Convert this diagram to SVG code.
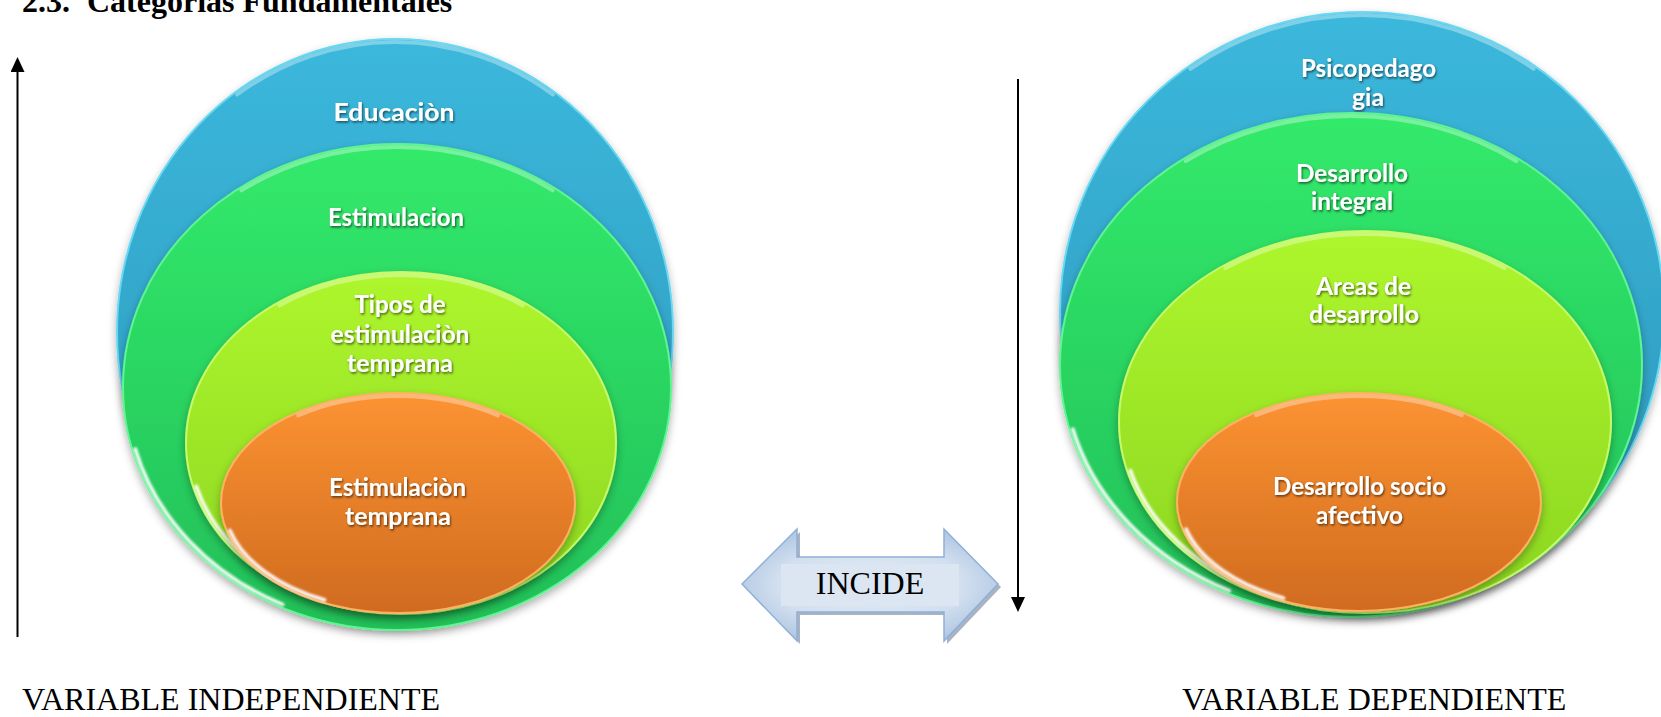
<svg xmlns="http://www.w3.org/2000/svg" width="1661" height="717" viewBox="0 0 1661 717">
<style>
.lbl{font-family:Lato,"Open Sans","Liberation Sans",sans-serif;font-weight:700;font-size:25px;fill:#ffffff;text-anchor:middle;filter:url(#tshadow)}
.serif{font-family:"Liberation Serif","Times New Roman",serif;fill:#000}
.hl{fill:none;stroke:#ffffff;stroke-linecap:round}
.glint{stroke-width:4;stroke-opacity:0.9;filter:url(#soft)}
.top{stroke-width:4;stroke-opacity:0.35}
.conn{stroke:#000;stroke-width:2;fill:none}
</style>
<defs>
<linearGradient id="gBlue" x1="0" y1="0" x2="0" y2="1"><stop offset="0" stop-color="#3bb8dc"/><stop offset="1" stop-color="#2b95b8"/></linearGradient>
<linearGradient id="gGreen" x1="0" y1="0" x2="0" y2="1"><stop offset="0" stop-color="#32ea6b"/><stop offset="1" stop-color="#22bf58"/></linearGradient>
<linearGradient id="gYellow" x1="0" y1="0" x2="0" y2="1"><stop offset="0" stop-color="#aef62d"/><stop offset="1" stop-color="#8bd521"/></linearGradient>
<linearGradient id="gOrange" x1="0" y1="0" x2="0" y2="1"><stop offset="0" stop-color="#fc9332"/><stop offset="1" stop-color="#d06b1f"/></linearGradient>
<radialGradient id="gArrow" cx="0.5" cy="0.5" r="0.6"><stop offset="0" stop-color="#e3ebf5"/><stop offset="0.6" stop-color="#d2dfef"/><stop offset="1" stop-color="#a8c1df"/></radialGradient>
<filter id="shadow" x="-10%" y="-10%" width="120%" height="125%"><feDropShadow dx="0" dy="4" stdDeviation="4" flood-color="#000" flood-opacity="0.3"/></filter>
<filter id="tshadow" x="-10%" y="-20%" width="120%" height="150%"><feDropShadow dx="1" dy="1.5" stdDeviation="1" flood-color="#000" flood-opacity="0.6"/></filter>
<filter id="soft"><feGaussianBlur stdDeviation="1"/></filter>
<marker id="ah" viewBox="0 -7 15 14" refX="0" refY="0" markerWidth="15" markerHeight="14" markerUnits="userSpaceOnUse" orient="auto"><path d="M0,-7 L15,0 L0,7 z" fill="#000"/></marker>
</defs>

<text class="serif" x="22" y="12" font-size="32" font-weight="700">2.3.<tspan x="87">Categorías Fundamentales</tspan></text>

<g id="left-categories">
<g id="educacion">
<ellipse cx="395" cy="332" rx="278" ry="293" fill="url(#gBlue)" stroke="#6ad8f2" stroke-width="2" filter="url(#shadow)"/>
<path class="hl top" d="M237.2,94.5 A275,290 0 0 1 552.8,94.5"/>
<text class="lbl" x="394" y="121" textLength="121" lengthAdjust="spacingAndGlyphs">Educaciòn</text>
</g>
<g id="estimulacion">
<ellipse cx="397" cy="387" rx="274" ry="243" fill="url(#gGreen)" stroke="#5ef590" stroke-width="2" filter="url(#shadow)"/>
<path class="hl top" d="M241.4,190.4 A271,240 0 0 1 552.6,190.4"/>
<path class="hl glint" d="M135.2,449.1 A271,240 0 0 0 282.5,604.5"/>
<text class="lbl" x="396" y="226" textLength="136" lengthAdjust="spacingAndGlyphs">Estimulacion</text>
</g>
<g id="tipos-estimulacion">
<ellipse cx="401" cy="443" rx="215" ry="171" fill="url(#gYellow)" stroke="#c8fb6a" stroke-width="2" filter="url(#shadow)"/>
<path class="hl top" d="M279.3,305.4 A212,168 0 0 1 522.7,305.4"/>
<path class="hl glint" d="M196.2,486.5 A212,168 0 0 0 311.4,595.3"/>
<text class="lbl" x="400" y="313" textLength="91" lengthAdjust="spacingAndGlyphs">Tipos de</text>
<text class="lbl" x="400" y="343" textLength="139" lengthAdjust="spacingAndGlyphs">estimulaciòn</text>
<text class="lbl" x="400" y="372" textLength="106" lengthAdjust="spacingAndGlyphs">temprana</text>
</g>
<g id="estimulacion-temprana">
<ellipse cx="398" cy="503" rx="177" ry="110" fill="url(#gOrange)" stroke="#ffb066" stroke-width="2" filter="url(#shadow)"/>
<path class="hl top" d="M298.1,415.4 A174,107 0 0 1 497.9,415.4"/>
<path class="hl glint" d="M229.9,530.7 A174,107 0 0 0 324.5,600"/>
<text class="lbl" x="397.5" y="496" textLength="137" lengthAdjust="spacingAndGlyphs">Estimulaciòn</text>
<text class="lbl" x="398" y="525" textLength="106" lengthAdjust="spacingAndGlyphs">temprana</text>
</g>
</g>

<g id="right-categories">
<g id="psicopedagogia">
<ellipse cx="1362" cy="312" rx="302" ry="300" fill="url(#gBlue)" stroke="#6ad8f2" stroke-width="2" filter="url(#shadow)"/>
<path class="hl top" d="M1190.4,68.8 A299,297 0 0 1 1533.6,68.8"/>
<text class="lbl" x="1368.5" y="77" textLength="135" lengthAdjust="spacingAndGlyphs">Psicopedago</text>
<text class="lbl" x="1368" y="106" textLength="32" lengthAdjust="spacingAndGlyphs">gia</text>
</g>
<g id="desarrollo-integral">
<ellipse cx="1351" cy="365" rx="291" ry="252" fill="url(#gGreen)" stroke="#5ef590" stroke-width="2" filter="url(#shadow)"/>
<path class="hl top" d="M1185.7,161.1 A288,249 0 0 1 1516.3,161.1"/>
<path class="hl glint" d="M1072.8,429.4 A288,249 0 0 0 1229.3,590.7"/>
<text class="lbl" x="1352" y="182" textLength="112" lengthAdjust="spacingAndGlyphs">Desarrollo</text>
<text class="lbl" x="1352" y="210" textLength="82" lengthAdjust="spacingAndGlyphs">integral</text>
</g>
<g id="areas-desarrollo">
<ellipse cx="1365" cy="422" rx="246" ry="191" fill="url(#gYellow)" stroke="#c8fb6a" stroke-width="2" filter="url(#shadow)"/>
<path class="hl top" d="M1225.5,268 A243,188 0 0 1 1504.5,268"/>
<path class="hl glint" d="M1130.3,470.7 A243,188 0 0 0 1262.3,592.4"/>
<text class="lbl" x="1363.5" y="295" textLength="95" lengthAdjust="spacingAndGlyphs">Areas de</text>
<text class="lbl" x="1364" y="323" textLength="110" lengthAdjust="spacingAndGlyphs">desarrollo</text>
</g>
<g id="desarrollo-socio-afectivo">
<ellipse cx="1359" cy="502" rx="182" ry="109" fill="url(#gOrange)" stroke="#ffb066" stroke-width="2" filter="url(#shadow)"/>
<path class="hl top" d="M1256.3,415.2 A179,106 0 0 1 1461.7,415.2"/>
<path class="hl glint" d="M1186.1,529.4 A179,106 0 0 0 1283.4,598.1"/>
<text class="lbl" x="1359.5" y="495" textLength="173" lengthAdjust="spacingAndGlyphs">Desarrollo socio</text>
<text class="lbl" x="1359.5" y="524" textLength="87" lengthAdjust="spacingAndGlyphs">afectivo</text>
</g>
</g>

<g id="incide">
<polygon points="745,587 800,532 800,560 947,560 947,532 1001,587 947,644 947,615 800,615 800,644" fill="#8593a8" opacity="0.7"/>
<polygon points="742,584 797,529 797,557 944,557 944,529 998,584 944,641 944,612 797,612 797,641" fill="url(#gArrow)" stroke="#8fb0d8" stroke-width="1.5"/>
<rect x="781" y="564" width="178" height="42" fill="#dce6f2"/>
<text class="serif" x="870" y="594" font-size="32" text-anchor="middle">INCIDE</text>
</g>

<g id="connectors">
<line class="conn" x1="17.5" y1="637" x2="17.5" y2="72" marker-end="url(#ah)"/>
<line class="conn" x1="1018" y1="79" x2="1018" y2="597" marker-end="url(#ah)"/>
</g>

<text class="serif" x="22" y="710" font-size="32">VARIABLE INDEPENDIENTE</text>
<text class="serif" x="1182" y="710" font-size="32">VARIABLE DEPENDIENTE</text>
</svg>
